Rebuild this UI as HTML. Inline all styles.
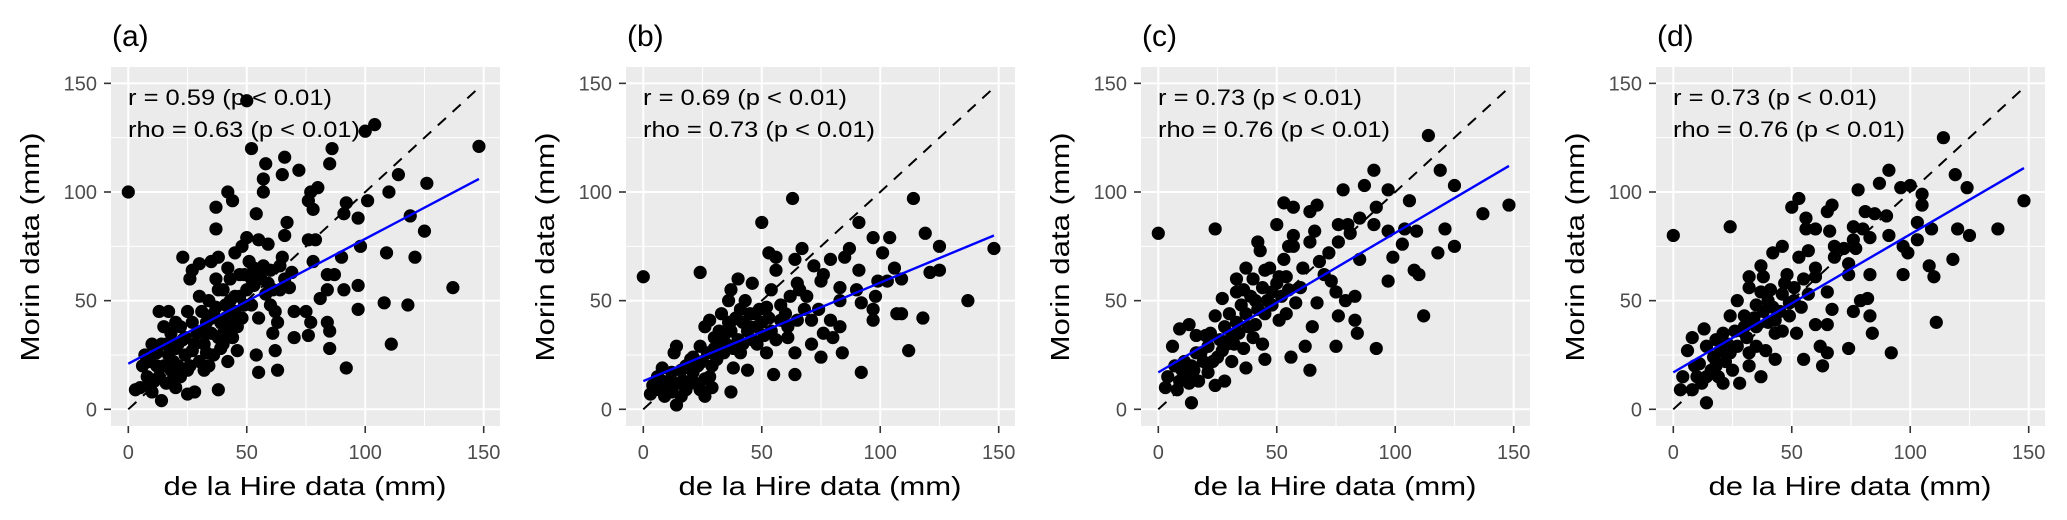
<!DOCTYPE html>
<html><head><meta charset="utf-8">
<style>
html,body{margin:0;padding:0;background:#fff;}
svg{display:block;font-family:"Liberation Sans",Arial,sans-serif;}
</style></head>
<body>
<svg id="chart" width="2067" height="520" viewBox="0 0 2067 520" xmlns="http://www.w3.org/2000/svg"></svg>
<script>
const panelLabels = ["(a)","(b)","(c)","(d)"];
const rValues = ["0.59","0.69","0.73","0.73"];
const rhoValues = ["0.63","0.73","0.76","0.76"];
const fitIntercepts = [21,13,17,17];
const fitEnds = [106,80,112,111];
const tickValues = [0,50,100,150];
const tickLabels = ["0","50","100","150"];
const minorValues = [25,75,125];

const pointsA = [[0,100],[50,142],[52,120],[104,131],[100,128],[148,121],[137,56],[126,104],[114,108],[125,82],[121,70],[119,89],[118,48],[108,49],[111,30],[109,72],[110,100],[101,96],[97,88],[98,75],[97,46],[97,57],[92,95],[91,90],[90,70],[91,55],[92,19],[86,120],[85,113],[80,102],[77,100],[76,96],[78,92],[84,62],[87,62],[84,55],[81,51],[84,40],[85,36],[85,28],[79,78],[76,78],[78,68],[77,40],[75,45],[76,34],[72,110],[70,45],[70,33],[66,116],[65,108],[67,86],[66,80],[65,70],[66,60],[64,55],[63,40],[62,27],[63,18],[61,35],[60,48],[59,76],[58,113],[57,106],[57,100],[55,78],[54,90],[53,65],[55,42],[54,25],[55,17],[52,60],[50,79],[49,62],[48,75],[45,72],[42,100],[44,96],[42,65],[43,50],[41,42],[40,30],[37,93],[37,83],[38,70],[37,60],[38,9],[35,68],[34,50],[33,40],[32,30],[30,67],[30,52],[27,64],[26,60],[25,45],[23,70],[22,38],[21,20],[20,28],[18,35],[17,45],[15,38],[14,30],[13,45],[12,20],[10,30],[8,15],[6,20],[5,10],[3,9],[14,4],[16,12],[19,14],[25,7],[28,8],[30,22],[32,18],[36,25],[40,35],[45,45],[47,52],[50,55],[52,48],[46,38],[44,33],[42,22],[39,40],[35,35],[28,30],[24,25],[22,15],[11,13],[9,22],[17,25],[20,10],[27,40],[31,45],[48,42],[56,60],[58,53],[60,64],[62,45],[68,56],[69,63],[46,27],[43,60],[38,55],[15,20],[18,18],[12,26],[23,32],[26,20],[29,35],[33,26],[36,44],[41,48],[44,40],[49,48],[53,57],[57,66],[61,55],[64,66],[10,8],[7,25],[20,40],[34,20],[39,28],[16,30],[19,22],[24,33],[27,27],[31,36],[35,42],[38,33],[42,36],[45,52],[47,62],[51,68],[55,63],[59,58],[13,15],[9,12],[21,30],[25,18],[33,35],[37,47],[40,55]];

const pointsB = [[0,61],[24,63],[63,97],[50,86],[114,97],[91,86],[148,74],[137,50],[119,81],[125,75],[125,64],[121,63],[118,42],[112,27],[109,44],[107,44],[92,17],[97,41],[97,46],[98,52],[92,49],[104,79],[97,79],[101,72],[106,65],[109,60],[103,59],[99,59],[87,74],[85,70],[79,69],[76,62],[75,59],[83,56],[90,55],[91,64],[72,66],[67,74],[64,69],[65,58],[66,55],[68,46],[74,46],[79,41],[83,38],[84,26],[75,24],[71,30],[64,16],[64,26],[61,33],[56,70],[56,64],[53,72],[54,55],[52,47],[55,16],[46,58],[40,60],[37,55],[36,50],[41,46],[45,44],[49,46],[33,44],[28,41],[26,38],[30,33],[37,36],[40,32],[44,36],[48,38],[54,36],[58,41],[61,38],[52,26],[44,18],[38,19],[34,26],[27,26],[24,29],[21,24],[14,29],[13,26],[8,19],[6,15],[3,7],[9,6],[14,2],[18,9],[26,6],[29,10],[28,15],[37,8],[17,13],[21,17],[11,13],[31,23],[41,26],[48,30],[56,32],[65,41],[71,41],[76,35],[80,33],[83,50],[20,23],[16,18],[4,11],[10,9],[12,17],[23,20],[33,30],[36,40],[42,40],[46,32],[50,40],[58,48],[62,52],[69,52],[26,14],[30,28],[19,12],[7,9],[43,50],[47,44],[53,42],[60,44],[15,12],[18,20],[22,12],[25,22],[29,20],[32,36],[35,30],[39,42],[42,30],[45,38],[51,34],[5,9],[8,13],[12,8],[16,6],[24,9],[34,34],[38,28]];

const pointsC = [[0,81],[24,83],[114,126],[91,110],[119,110],[87,103],[78,101],[97,101],[106,96],[125,103],[148,94],[137,90],[121,83],[125,75],[118,72],[109,82],[104,83],[97,82],[103,76],[99,70],[97,59],[108,64],[110,62],[112,43],[92,28],[91,85],[92,93],[85,88],[80,85],[76,85],[67,94],[64,91],[57,93],[53,95],[50,85],[66,82],[64,77],[57,75],[53,69],[57,80],[42,77],[43,73],[37,65],[33,60],[40,60],[47,65],[48,54],[54,61],[61,65],[68,68],[72,72],[76,77],[81,81],[85,69],[73,59],[75,54],[83,52],[79,50],[76,43],[83,41],[84,35],[75,29],[67,49],[65,38],[62,29],[64,18],[56,24],[54,44],[58,49],[51,41],[45,44],[41,39],[37,44],[33,54],[27,51],[30,44],[24,43],[28,38],[34,35],[40,33],[44,30],[45,23],[37,19],[31,22],[27,27],[21,29],[16,26],[13,39],[9,37],[16,34],[20,34],[6,29],[4,15],[3,10],[8,9],[14,3],[13,12],[17,13],[21,17],[23,22],[28,13],[24,11],[10,18],[11,22],[51,61],[45,64],[55,75],[35,48],[39,52],[44,56],[48,48],[52,52],[60,56],[19,22],[26,32],[32,30],[7,20],[15,18],[36,28],[42,46],[70,62],[18,26],[22,35],[25,24],[29,30],[33,40],[38,38],[41,50],[46,50],[50,58],[55,55],[12,16],[9,13],[14,20],[31,34],[36,55]];

const pointsD = [[0,80],[24,84],[114,125],[91,110],[119,108],[124,102],[148,96],[137,83],[120,83],[125,80],[118,69],[111,40],[92,26],[74,28],[87,104],[78,101],[96,102],[100,103],[105,99],[105,94],[103,86],[109,83],[108,66],[110,61],[97,62],[99,72],[97,75],[103,78],[91,80],[90,89],[85,90],[81,91],[80,83],[76,84],[76,78],[77,74],[83,79],[83,62],[82,51],[83,43],[84,35],[79,50],[76,45],[72,74],[74,67],[74,62],[67,94],[65,91],[66,82],[68,75],[68,70],[60,83],[56,88],[56,83],[57,73],[53,97],[50,93],[53,70],[60,65],[60,61],[65,54],[67,46],[65,39],[60,39],[62,29],[65,26],[63,20],[55,23],[46,75],[42,72],[37,66],[32,61],[37,54],[32,56],[27,50],[24,43],[30,43],[35,48],[40,50],[46,53],[51,56],[43,41],[46,36],[52,35],[49,43],[43,35],[43,23],[37,15],[35,29],[31,33],[27,29],[24,26],[21,35],[18,32],[13,37],[14,29],[8,33],[6,27],[4,15],[3,9],[8,9],[14,3],[14,15],[18,20],[21,12],[28,12],[25,18],[32,20],[32,26],[39,27],[11,21],[10,15],[54,47],[57,53],[38,61],[45,45],[49,49],[40,40],[35,38],[29,36],[17,24],[22,22],[55,60],[48,62],[16,18],[20,27],[26,36],[30,38],[34,42],[38,45],[42,47],[47,58],[51,50],[12,12],[9,20],[19,15],[23,30],[41,55]];

const pointSets = [pointsA,pointsB,pointsC,pointsD];

const NS = "http://www.w3.org/2000/svg";
const svg = document.getElementById("chart");
const PANEL_STEP = 515, PL = 111, PR = 500, PT = 67, PB = 426;
function sx(v, i){ return PANEL_STEP*i + 128.3 + 2.3693*v; }
function sy(v){ return 409.3 - 2.173*v; }
function mk(tag, attrs, parent){
  const e = document.createElementNS(NS, tag);
  for (const k in attrs) e.setAttribute(k, attrs[k]);
  (parent||svg).appendChild(e);
  return e;
}

for (let i=0;i<4;i++){
  const ox = PANEL_STEP*i;
  const g = mk("g",{});
  
  

  const title = mk("text",{x:ox+112,y:46,"font-size":30,fill:"#000"},g);
  title.textContent = panelLabels[i];
  
  

  const bg = mk("rect",{x:ox+PL,y:PT,width:PR-PL,height:PB-PT,fill:"#ebebeb"},g);
  
  

  for (const m of minorValues){
    mk("line",{x1:sx(m,i),x2:sx(m,i),y1:PT,y2:PB,stroke:"#fff","stroke-width":1},g);
    mk("line",{x1:ox+PL,x2:ox+PR,y1:sy(m),y2:sy(m),stroke:"#fff","stroke-width":1},g);
  }
  tickValues.forEach((t,k)=>{
    const gx = mk("line",{x1:sx(t,i),x2:sx(t,i),y1:PT,y2:PB,stroke:"#fff","stroke-width":2},g);
    
    
    const gy = mk("line",{x1:ox+PL,x2:ox+PR,y1:sy(t),y2:sy(t),stroke:"#fff","stroke-width":2},g);
    
    
    mk("line",{x1:sx(t,i),x2:sx(t,i),y1:PB,y2:PB+7,stroke:"#333","stroke-width":1.6},g);
    mk("line",{x1:ox+PL-7,x2:ox+PL,y1:sy(t),y2:sy(t),stroke:"#333","stroke-width":1.6},g);
    const xl = mk("text",{x:sx(t,i),y:459,"font-size":20,fill:"#4d4d4d","text-anchor":"middle"},g);
    xl.textContent = tickLabels[k];
    
    
    const yl = mk("text",{x:ox+97,y:sy(t)+7,"font-size":20,fill:"#4d4d4d","text-anchor":"end"},g);
    yl.textContent = tickLabels[k];
    
    
  });

  const dl = mk("line",{x1:sx(0,i),y1:sy(0),x2:sx(148,i),y2:sy(148),stroke:"#000","stroke-width":2,"stroke-dasharray":"11,9"},g);
  
  

  for (const p of pointSets[i]){
    const c = mk("circle",{cx:sx(p[0],i),cy:sy(p[1]),r:6.6,fill:"#000"},g);
    
    
  }

  const fl = mk("line",{x1:sx(0,i),y1:sy(fitIntercepts[i]),x2:sx(148,i),y2:sy(fitEnds[i]),stroke:"#0000ff","stroke-width":2.4},g);
  
  

  const a1 = mk("text",{x:ox+128,y:105,"font-size":22,fill:"#000",textLength:204,lengthAdjust:"spacingAndGlyphs"},g);
  a1.textContent = "r = " + rValues[i] + " (p < 0.01)";
  
  
  const a2 = mk("text",{x:ox+128,y:137,"font-size":22,fill:"#000",textLength:232,lengthAdjust:"spacingAndGlyphs"},g);
  a2.textContent = "rho = " + rhoValues[i] + " (p < 0.01)";
  
  

  const xt = mk("text",{x:ox+305,y:495,"font-size":26,fill:"#000","text-anchor":"middle",textLength:283,lengthAdjust:"spacingAndGlyphs"},g);
  xt.textContent = "de la Hire data (mm)";
  
  
  const yt = mk("text",{x:0,y:0,"font-size":26,fill:"#000","text-anchor":"middle",textLength:229,lengthAdjust:"spacingAndGlyphs",transform:"translate("+(ox+39)+",247) rotate(-90)"},g);
  yt.textContent = "Morin data (mm)";
  
  
}
</script>
</body></html>
